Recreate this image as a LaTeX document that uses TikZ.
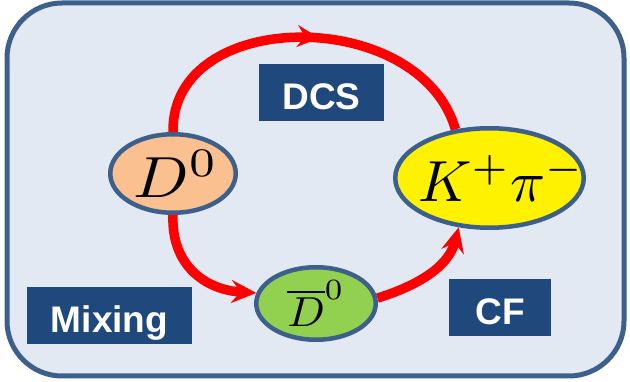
\documentclass[tikz,border=0pt]{standalone}
\usepackage{graphicx}
\usepackage[no-math]{fontspec}
\newfontfamily\boxfont{Liberation Sans}
\usetikzlibrary{shapes.geometric,arrows.meta,decorations.markings}

\definecolor{frameblue}{HTML}{3C5F8C}
\definecolor{panelfill}{HTML}{E3E9F3}
\definecolor{tagblue}{HTML}{1F497D}
\definecolor{peach}{HTML}{FAC090}
\definecolor{leafgreen}{HTML}{92D050}
\definecolor{flowred}{HTML}{FF0000}

\pgfdeclarelayer{panel}
\pgfdeclarelayer{arcs}
\pgfsetlayers{panel,arcs,main}

\begin{document}
\begin{tikzpicture}[x=1pt,y=-1pt,
  particle/.style={ellipse, draw=frameblue, line width=4.5pt, inner sep=0pt},
  tag/.style={fill=tagblue, text=white, inner sep=0pt, minimum height=57pt,
    text height=35pt, text depth=0pt,
    font=\boxfont\bfseries\fontsize{37}{42}\selectfont},
  flow/.style={draw=flowred, line width=9.5pt},
  head/.style={-{Stealth[length=25pt,width=23pt,inset=9pt]}}]

\useasboundingbox (0,0) rectangle (630,382);

% rounded panel
\begin{pgfonlayer}{panel}
\draw[draw=frameblue, fill=panelfill, line width=5pt, rounded corners=55pt]
  (7,3) rectangle (624,376);
\end{pgfonlayer}

% states
\node[particle, fill=peach, minimum width=125.5pt, minimum height=78.5pt]
  (d0) at (173,173.5)
  {\makebox[0pt]{\hspace{6pt}\scalebox{6.5}[5.8]{$D^0$}}};
\node[particle, fill=yellow, minimum width=188.5pt, minimum height=99.5pt]
  (kp) at (489.5,178)
  {\makebox[0pt]{\hspace{24pt}\raisebox{-2pt}{\scalebox{5.8}{$K^+\pi^-$}}}};
\node[particle, fill=leafgreen, minimum width=119.5pt, minimum height=72.5pt]
  (db) at (316,303.5)
  {\makebox[0pt]{\scalebox{4.4}[4.2]{$\overline{D}^0$}}};

% process labels
\node[tag, minimum width=125pt] (dcs) at (321.5,92.5) {DCS};
\node[tag, minimum width=165pt] (mix) at (109.5,315.5) {Mixing};
\node[tag, minimum width=102pt] (cf)  at (500,307.5) {CF};

% decay paths
\begin{pgfonlayer}{arcs}
\draw[flow, postaction={decorate}, decoration={markings,
    mark=at position 0.53 with {\arrow{Stealth[length=22pt,width=22pt,inset=8pt]}}}]
  (d0.north) .. controls (171,6) and (420,6) .. (kp.125);
\draw[flow, head] (d0.south) .. controls (171,265) and (205,290) .. (db.170);
\draw[flow, head] (db.5) .. controls (410,288) and (448,270) .. (kp.238);
\end{pgfonlayer}

\end{tikzpicture}
\end{document}
